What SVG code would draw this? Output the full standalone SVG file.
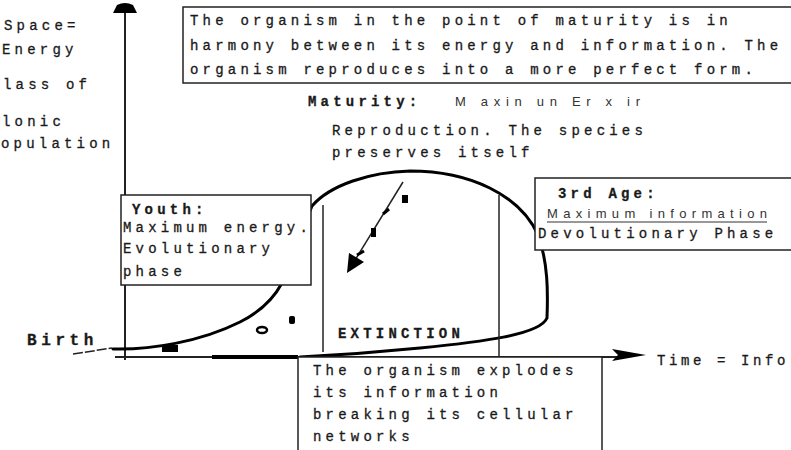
<svg xmlns="http://www.w3.org/2000/svg" width="791" height="450" viewBox="0 0 791 450">
<style>
  .t { font-family: "Liberation Mono", "DejaVu Sans Mono", monospace; font-size: 14px; fill: #1a1a1a; stroke: #1a1a1a; stroke-width: 0.3px; letter-spacing: 4.2px; }
  .b { font-weight: bold; }
  .n { font-family: "Liberation Sans", Arial, sans-serif; font-size: 13px; fill: #333; }
  .box { fill: #fff; stroke: #222; stroke-width: 1.5; }
  .ln { stroke: #222; stroke-width: 1.5; fill: none; }
  .curve { stroke: #000; stroke-width: 3; fill: none; stroke-linecap: round; }
</style>
<rect width="791" height="450" fill="#fff"/>

<g id="axes">
  <line x1="125" y1="10" x2="125" y2="360" stroke="#222" stroke-width="2"/>
  <path d="M113 13 L137 13 L133 5 Q125 1 117 5 Z" fill="#000"/>
  <line x1="115" y1="357" x2="622" y2="357" stroke="#222" stroke-width="2"/>
  <path d="M612 349 L646 355 L612 361 L618 355 Z" fill="#000"/>
  <rect x="212" y="355" width="86" height="4" fill="#000"/>
</g>

<g id="left-labels">
  <text class="t" x="4" y="30">Space=</text>
  <text class="t" x="2" y="54">Energy</text>
  <text class="t" x="3" y="89">lass of</text>
  <text class="t" x="2" y="126">lonic</text>
  <text class="t" x="1" y="148">opulation</text>
</g>

<g id="connectors">
  <path class="curve" d="M113 349 C150 350, 200 342, 240 322 C262 311, 274 298, 282 283 C292 265, 300 235, 312 206 C330 185, 370 172, 410 171 C470 171, 520 195, 538 235 C548 262, 548 292, 547 318 C540 335, 480 342, 420 348 C380 352, 340 355, 300 357"/>
  <line class="ln" x1="323" y1="205" x2="323" y2="352"/>
  <line class="ln" x1="499" y1="195" x2="499" y2="356"/>
  <line x1="403" y1="182" x2="352" y2="265" stroke="#222" stroke-width="1.5"/>
  <path d="M347 273 L364 262 L349 253 Z" fill="#000"/>
  <rect x="402" y="195" width="6" height="8" fill="#000"/>
  <line x1="383" y1="214" x2="389" y2="209" stroke="#000" stroke-width="3"/>
  <rect x="371" y="228" width="5" height="9" fill="#000"/>
  <line x1="357" y1="255" x2="364" y2="251" stroke="#000" stroke-width="3"/>
  <rect x="162" y="345" width="16" height="7" fill="#000"/>
  <ellipse cx="262" cy="330" rx="5" ry="3" fill="none" stroke="#000" stroke-width="2.5"/>
  <rect x="289" y="316" width="6" height="8" rx="2" fill="#000"/>
  <line x1="73" y1="354" x2="112" y2="348" stroke="#222" stroke-width="1.5" stroke-dasharray="10 2"/>
</g>

<g id="top-box">
  <rect class="box" x="183" y="7" width="612" height="76"/>
  <text class="t" x="190" y="25">The organism in the point of maturity is in</text>
  <text class="t" x="190" y="50">harmony between its energy and information. The</text>
  <text class="t" x="190" y="74">organism reproduces into a more perfect form.</text>
</g>

<g id="maturity">
  <text class="t b" x="308" y="106">Maturity:</text>
  <text class="n" x="455" y="106" textLength="185" lengthAdjust="spacing">M axin un Er x ir</text>
  <text class="t" x="332" y="135">Reproduction. The species</text>
  <text class="t" x="332" y="157">preserves itself</text>
</g>

<g id="youth">
  <rect class="box" x="121" y="195" width="190" height="90"/>
  <text class="t b" x="132" y="214">Youth:</text>
  <text class="t" x="123" y="232">Maximum energy.</text>
  <text class="t" x="123" y="253">Evolutionary</text>
  <text class="t" x="123" y="276">phase</text>
</g>

<g id="third-age">
  <rect class="box" x="535" y="178" width="260" height="72"/>
  <text class="t b" x="558" y="198">3rd Age:</text>
  <text class="n" x="547" y="218" textLength="220" lengthAdjust="spacing">Maximum information</text>
  <line x1="547" y1="222" x2="767" y2="222" stroke="#333" stroke-width="1.2"/>
  <text class="t" x="538" y="238">Devolutionary Phase</text>
</g>

<g id="extinction">
  <text class="t b" x="338" y="338">EXTINCTION</text>
</g>

<g id="birth">
  <text class="t b" x="27" y="345" style="font-size:16px;letter-spacing:4.6px">Birth</text>
</g>

<g id="time">
  <text class="t" x="657" y="365" style="letter-spacing:3.6px">Time = Info</text>
</g>

<g id="bottom-box">
  <rect class="box" x="298" y="357" width="304" height="100"/>
  <text class="t" x="313" y="375">The organism explodes</text>
  <text class="t" x="313" y="397">its information</text>
  <text class="t" x="313" y="419">breaking its cellular</text>
  <text class="t" x="313" y="441">networks</text>
</g>
</svg>
